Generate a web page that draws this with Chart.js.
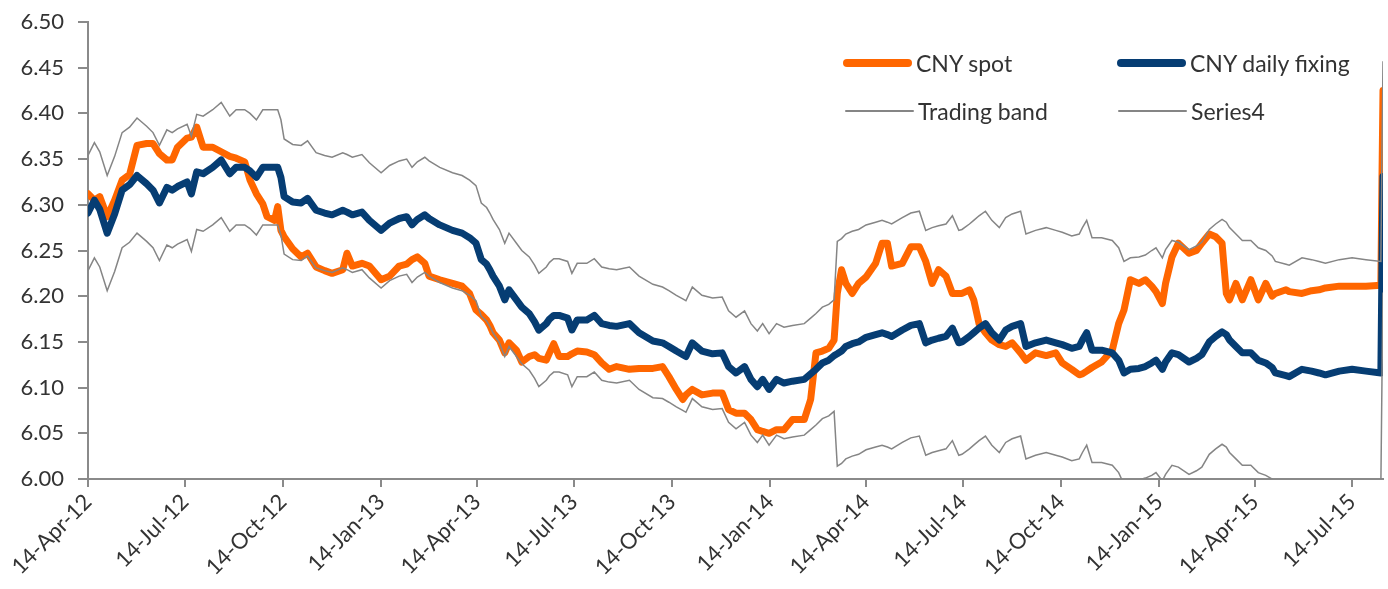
<!DOCTYPE html>
<html>
<head>
<meta charset="utf-8">
<title>CNY spot vs daily fixing</title>
<script src="https://cdn.jsdelivr.net/npm/chart.js@4.4.1/dist/chart.umd.min.js"></script>
<style>
  html, body { margin: 0; padding: 0; background: #fff; }
  #wrap { position: relative; width: 1388px; height: 589px; }
  .item { position: absolute; display: flex; align-items: center; height: 32px;
          font: 23px Lato, sans-serif; color: #333; white-space: nowrap; }
  .swatch { width: 69px; margin-right: 4px; border-radius: 4px; }
</style>
</head>
<body>
<div id="wrap">
  <canvas id="chart" width="1388" height="589"></canvas>
  <div id="legend"></div>
</div>
<script>
const startDate = "2012-04-14";

const dates = [
  "2012-04-14","2012-04-20","2012-04-25","2012-05-02","2012-05-09","2012-05-16","2012-05-23","2012-05-30",
  "2012-06-08","2012-06-14","2012-06-20","2012-06-27","2012-07-02","2012-07-07","2012-07-16","2012-07-20",
  "2012-07-25","2012-07-31","2012-08-09","2012-08-17","2012-08-25","2012-08-31","2012-09-08","2012-09-13",
  "2012-09-19","2012-09-25","2012-09-29","2012-10-06","2012-10-09","2012-10-12","2012-10-15","2012-10-23",
  "2012-10-31","2012-11-06","2012-11-14","2012-11-22","2012-11-29","2012-12-09","2012-12-13","2012-12-18",
  "2012-12-27","2013-01-03","2013-01-14","2013-01-22","2013-01-31","2013-02-07","2013-02-12","2013-02-17",
  "2013-02-24","2013-02-28","2013-03-10","2013-03-22","2013-03-31","2013-04-07","2013-04-13","2013-04-18",
  "2013-04-23","2013-04-26","2013-04-29","2013-05-05","2013-05-10","2013-05-14","2013-05-21","2013-05-26",
  "2013-06-02","2013-06-07","2013-06-11","2013-06-18","2013-06-21","2013-06-25","2013-06-30","2013-07-08",
  "2013-07-12","2013-07-17","2013-07-26","2013-08-02","2013-08-09","2013-08-16","2013-08-23","2013-09-04",
  "2013-09-13","2013-09-26","2013-10-05","2013-10-11","2013-10-18","2013-10-24","2013-10-27","2013-11-02",
  "2013-11-11","2013-11-21","2013-11-30","2013-12-06","2013-12-13","2013-12-21","2013-12-27","2014-01-02",
  "2014-01-07","2014-01-13","2014-01-20","2014-01-27","2014-02-04","2014-02-15","2014-02-21","2014-02-26",
  "2014-03-04","2014-03-10","2014-03-15","2014-03-18","2014-03-22","2014-03-26","2014-04-01","2014-04-07",
  "2014-04-14","2014-04-23","2014-04-29","2014-05-04","2014-05-08","2014-05-18","2014-05-26","2014-06-03",
  "2014-06-09","2014-06-15","2014-06-21","2014-06-28","2014-07-04","2014-07-10","2014-07-13","2014-07-20",
  "2014-07-24","2014-07-29","2014-08-04","2014-08-10","2014-08-17","2014-08-23","2014-08-29","2014-09-06",
  "2014-09-11","2014-09-20","2014-09-30","2014-10-09","2014-10-15","2014-10-24","2014-10-31","2014-11-03",
  "2014-11-07","2014-11-12","2014-11-21","2014-12-01","2014-12-07","2014-12-12","2014-12-18","2014-12-26",
  "2015-01-01","2015-01-07","2015-01-11","2015-01-17","2015-01-20","2015-01-26","2015-02-01","2015-02-11",
  "2015-02-18","2015-02-23","2015-03-02","2015-03-08","2015-03-14","2015-03-18","2015-03-21","2015-03-27",
  "2015-04-02","2015-04-10","2015-04-17","2015-04-24","2015-04-30","2015-05-03","2015-05-13","2015-05-16",
  "2015-05-28","2015-06-06","2015-06-13","2015-06-19","2015-07-02","2015-07-14","2015-07-27","2015-08-10",
  "2015-08-11","2015-08-12"
];

const cnySpot = [
  6.312,6.305,6.309,6.287,6.305,6.327,6.333,6.365, 6.367,6.367,6.356,6.349,6.349,6.363,6.373,6.374,
  6.385,6.363,6.363,6.358,6.353,6.351,6.347,6.327, 6.312,6.301,6.287,6.283,6.298,6.272,6.265,6.252,
  6.243,6.247,6.232,6.228,6.225,6.229,6.247,6.233, 6.236,6.233,6.218,6.222,6.233,6.235,6.240,6.243,
  6.236,6.222,6.218,6.214,6.211,6.203,6.185,6.180, 6.174,6.168,6.160,6.152,6.138,6.149,6.141,6.128,
  6.134,6.136,6.132,6.130,6.138,6.148,6.134,6.134, 6.137,6.140,6.139,6.136,6.127,6.120,6.123,6.120,
  6.121,6.121,6.123,6.112,6.098,6.087,6.092,6.098, 6.092,6.094,6.094,6.076,6.072,6.072,6.065,6.054,
  6.052,6.050,6.054,6.054,6.065,6.065,6.087,6.138, 6.140,6.143,6.152,6.203,6.229,6.214,6.203,6.214,
  6.221,6.236,6.258,6.258,6.233,6.236,6.254,6.254, 6.238,6.214,6.229,6.222,6.203,6.203,6.203,6.207,
  6.196,6.170,6.160,6.152,6.147,6.145,6.149,6.138, 6.130,6.138,6.135,6.138,6.127,6.120,6.114,6.115,
  6.118,6.122,6.128,6.141,6.170,6.185,6.218,6.214, 6.218,6.211,6.205,6.192,6.214,6.243,6.258,6.247,
  6.250,6.258,6.268,6.265,6.258,6.203,6.196,6.214, 6.196,6.218,6.196,6.214,6.200,6.203,6.207,6.205,
  6.203,6.206,6.207,6.209,6.211,6.211,6.211,6.212, 6.324,6.425
];

const cnyFixing = [
  6.291,6.305,6.295,6.269,6.290,6.316,6.322,6.332, 6.323,6.316,6.302,6.319,6.316,6.320,6.325,6.312,
  6.336,6.334,6.341,6.349,6.334,6.341,6.341,6.337, 6.330,6.341,6.341,6.341,6.341,6.330,6.309,6.303,
  6.302,6.307,6.294,6.291,6.289,6.294,6.292,6.289, 6.292,6.283,6.272,6.280,6.285,6.287,6.278,6.284,
  6.289,6.285,6.278,6.272,6.269,6.264,6.258,6.240, 6.235,6.229,6.222,6.211,6.196,6.207,6.196,6.188,
  6.181,6.172,6.163,6.170,6.175,6.179,6.179,6.176, 6.163,6.174,6.174,6.179,6.170,6.168,6.167,6.170,
  6.160,6.151,6.149,6.145,6.140,6.136,6.134,6.149, 6.140,6.137,6.138,6.123,6.116,6.123,6.109,6.101,
  6.109,6.098,6.109,6.105,6.107,6.109,6.115,6.120, 6.127,6.130,6.135,6.137,6.140,6.145,6.148,6.150,
  6.155,6.158,6.160,6.158,6.156,6.163,6.168,6.170, 6.149,6.152,6.154,6.156,6.165,6.149,6.150,6.156,
  6.160,6.165,6.170,6.160,6.152,6.163,6.167,6.170, 6.145,6.149,6.152,6.149,6.147,6.143,6.145,6.152,
  6.160,6.141,6.141,6.138,6.130,6.116,6.120,6.121, 6.123,6.127,6.130,6.120,6.128,6.138,6.136,6.128,
  6.132,6.136,6.150,6.156,6.161,6.158,6.152,6.145, 6.138,6.138,6.130,6.127,6.122,6.116,6.113,6.112,
  6.120,6.118,6.116,6.114,6.118,6.120,6.118,6.116, 6.230,6.331
];

const tradingBand = [
  6.354,6.368,6.358,6.332,6.353,6.379,6.385,6.395, 6.386,6.379,6.365,6.382,6.379,6.383,6.388,6.375,
  6.399,6.397,6.404,6.412,6.397,6.404,6.404,6.400, 6.393,6.404,6.404,6.404,6.404,6.393,6.372,6.366,
  6.365,6.370,6.357,6.354,6.352,6.357,6.355,6.352, 6.355,6.346,6.335,6.343,6.348,6.350,6.341,6.347,
  6.352,6.348,6.341,6.335,6.332,6.327,6.321,6.302, 6.297,6.291,6.284,6.273,6.258,6.269,6.258,6.250,
  6.243,6.234,6.225,6.232,6.237,6.241,6.241,6.238, 6.225,6.236,6.236,6.241,6.232,6.230,6.229,6.232,
  6.222,6.213,6.210,6.206,6.201,6.197,6.195,6.210, 6.201,6.198,6.199,6.184,6.177,6.184,6.170,6.162,
  6.170,6.159,6.170,6.166,6.168,6.170,6.176,6.181, 6.188,6.191,6.196,6.260,6.263,6.268,6.271,6.273,
  6.278,6.281,6.283,6.281,6.279,6.286,6.291,6.293, 6.272,6.275,6.277,6.279,6.288,6.272,6.273,6.279,
  6.283,6.288,6.293,6.283,6.275,6.286,6.290,6.293, 6.268,6.272,6.275,6.272,6.270,6.266,6.268,6.275,
  6.283,6.264,6.264,6.261,6.253,6.238,6.242,6.243, 6.245,6.250,6.253,6.242,6.251,6.261,6.259,6.251,
  6.255,6.259,6.273,6.279,6.284,6.281,6.275,6.268, 6.261,6.261,6.253,6.250,6.244,6.238,6.235,6.234,
  6.242,6.240,6.238,6.236,6.240,6.242,6.240,6.238, 6.355,6.457
];

const series4 = [
  6.228,6.242,6.232,6.206,6.227,6.253,6.259,6.269, 6.260,6.253,6.239,6.256,6.253,6.257,6.262,6.249,
  6.273,6.271,6.278,6.286,6.271,6.278,6.278,6.274, 6.267,6.278,6.278,6.278,6.278,6.267,6.246,6.240,
  6.239,6.244,6.231,6.228,6.226,6.231,6.229,6.226, 6.229,6.220,6.209,6.217,6.222,6.224,6.215,6.221,
  6.226,6.222,6.215,6.209,6.206,6.201,6.195,6.178, 6.173,6.167,6.160,6.149,6.134,6.145,6.134,6.126,
  6.119,6.110,6.101,6.108,6.113,6.117,6.117,6.114, 6.101,6.112,6.112,6.117,6.108,6.106,6.105,6.108,
  6.098,6.089,6.088,6.084,6.079,6.075,6.073,6.088, 6.079,6.076,6.077,6.062,6.055,6.062,6.048,6.040,
  6.048,6.037,6.048,6.044,6.046,6.048,6.054,6.059, 6.066,6.069,6.074,6.014,6.017,6.022,6.025,6.027,
  6.032,6.035,6.037,6.035,6.033,6.040,6.045,6.047, 6.026,6.029,6.031,6.033,6.042,6.026,6.027,6.033,
  6.037,6.042,6.047,6.037,6.029,6.040,6.044,6.047, 6.022,6.026,6.029,6.026,6.024,6.020,6.022,6.029,
  6.037,6.018,6.018,6.015,6.007,5.994,5.998,5.999, 6.001,6.004,6.007,5.998,6.005,6.015,6.013,6.005,
  6.009,6.013,6.027,6.033,6.038,6.035,6.029,6.022, 6.015,6.015,6.007,6.004,6.000,5.994,5.991,5.990,
  5.998,5.996,5.994,5.992,5.996,5.998,5.996,5.994, 6.105,6.204
];

const tickDates = [
  "2012-04-14","2012-07-14","2012-10-14","2013-01-14","2013-04-14","2013-07-14","2013-10-14",
  "2014-01-14","2014-04-14","2014-07-14","2014-10-14","2015-01-14","2015-04-14","2015-07-14"
];
const tickLabels = [
  "14-Apr-12","14-Jul-12","14-Oct-12","14-Jan-13","14-Apr-13","14-Jul-13","14-Oct-13",
  "14-Jan-14","14-Apr-14","14-Jul-14","14-Oct-14","14-Jan-15","14-Apr-15","14-Jul-15"
];

const seriesNames = ["CNY spot", "CNY daily fixing", "Trading band", "Series4"];
const seriesColors = ["#ff6600", "#063d73", "#858585", "#858585"];

// x is days since the first date, so the date axis stays linear
const dayOf = (s) => (Date.parse(s + "T00:00:00Z") - Date.parse(startDate + "T00:00:00Z")) / 86400000;
const toPoints = (vals) => vals.map((v, i) => ({ x: dayOf(dates[i]), y: v }));

Chart.defaults.font.family = "Lato, sans-serif";
Chart.defaults.font.size = 22;
Chart.defaults.color = "#333";

const axisGray = "#8a8a8a";

const thick = (i, data, order) => ({
  label: seriesNames[i],
  data: toPoints(data),
  borderColor: seriesColors[i],
  borderWidth: 7,
  borderJoinStyle: "round",
  borderCapStyle: "round",
  pointRadius: 0,
  tension: 0,
  order: order,
});
const thin = (i, data, order) => ({
  label: seriesNames[i],
  data: toPoints(data),
  borderColor: seriesColors[i],
  borderWidth: 1.5,
  pointRadius: 0,
  tension: 0,
  order: order,
});

const config = {
  type: "line",
  data: {
    datasets: [
      thick(0, cnySpot, 4),
      thick(1, cnyFixing, 3),
      thin(2, tradingBand, 2),
      thin(3, series4, 1),
    ],
  },
  options: {
    responsive: false,
    animation: false,
    layout: { padding: { top: 22, right: 5, left: 0, bottom: 0 } },
    plugins: { legend: { display: false }, tooltip: { enabled: false } },
    scales: {
      x: {
        type: "linear",
        min: 0,
        max: dayOf(dates[dates.length - 1]),
        afterBuildTicks: (axis) => {
          axis.ticks = tickDates.map((d) => ({ value: dayOf(d) }));
        },
        afterFit: (axis) => { axis.height = 110; axis.paddingRight = 0; },
        ticks: {
          autoSkip: false,
          minRotation: 45,
          maxRotation: 45,
          padding: 2,
          callback: (value, index) => tickLabels[index],
        },
        grid: { drawOnChartArea: false, drawTicks: true, tickLength: 8, color: axisGray, lineWidth: 2 },
        border: { color: axisGray, width: 2 },
      },
      y: {
        min: 6.0,
        max: 6.5,
        afterFit: (axis) => {
          axis.width = 88;
          axis.paddingTop = 0;
          axis.paddingBottom = 0;
        },
        ticks: {
          stepSize: 0.05,
          padding: 14,
          callback: (value) => Number(value).toFixed(2),
        },
        grid: { drawOnChartArea: false, drawTicks: true, tickLength: 10, color: axisGray, lineWidth: 2 },
        border: { color: axisGray, width: 2 },
      },
    },
  },
};

window.addEventListener("load", () => {
  const ctx = document.getElementById("chart");
  window.cnyChart = new Chart(ctx, config);

  // legend sits inside the plot, two columns like the original
  const legend = document.getElementById("legend");
  const spots = [
    { left: 843, top: 47, h: 8 },
    { left: 1117, top: 47, h: 8 },
    { left: 845, top: 95, h: 2 },
    { left: 1118, top: 95, h: 2 },
  ];
  seriesNames.forEach((name, i) => {
    const item = document.createElement("div");
    item.className = "item";
    item.style.left = spots[i].left + "px";
    item.style.top = spots[i].top + "px";
    const sw = document.createElement("span");
    sw.className = "swatch";
    sw.style.height = spots[i].h + "px";
    sw.style.background = seriesColors[i];
    item.appendChild(sw);
    item.appendChild(document.createTextNode(name));
    legend.appendChild(item);
  });
});
</script>
</body>
</html>
